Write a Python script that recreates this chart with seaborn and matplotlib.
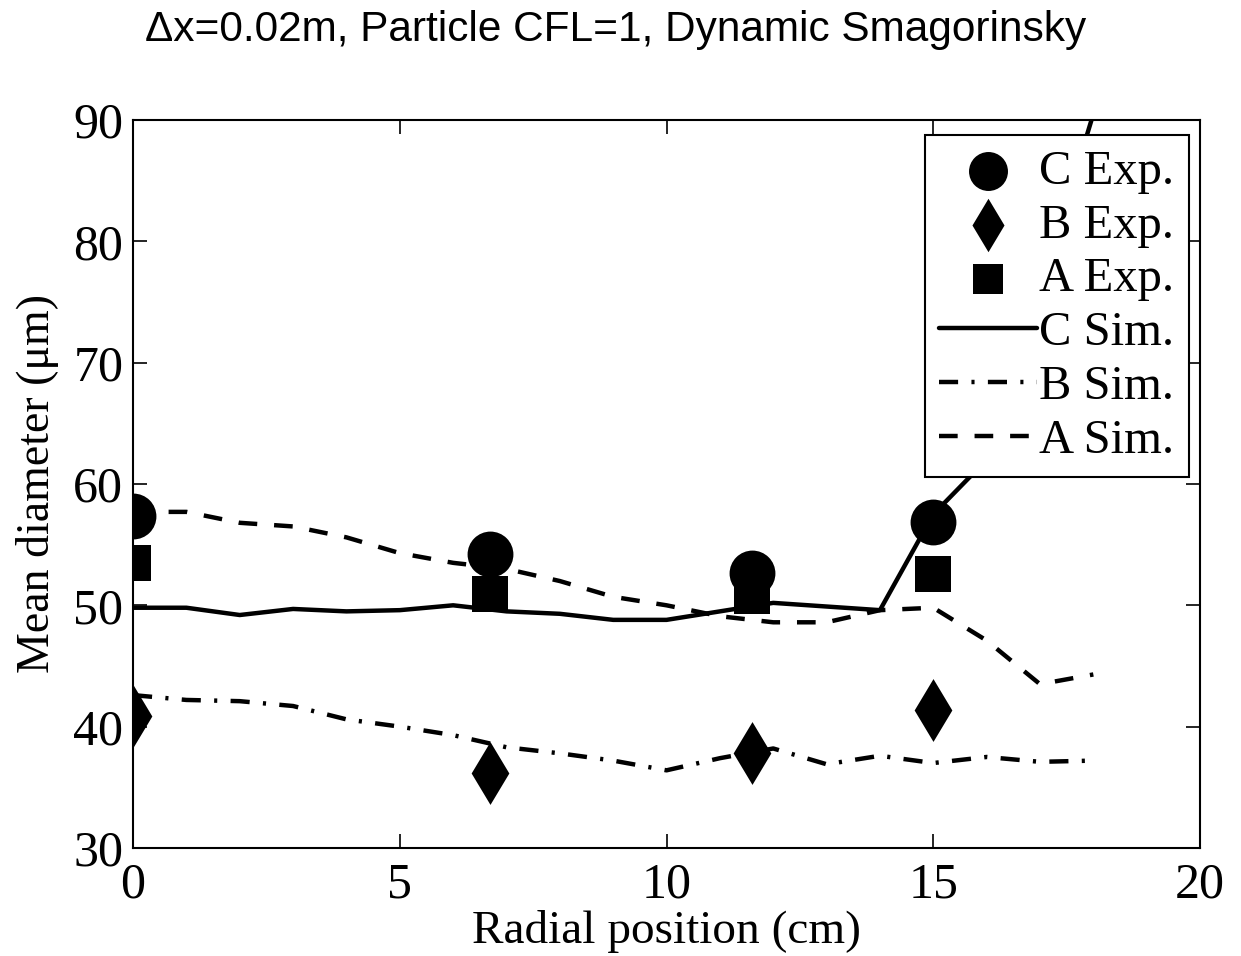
import numpy as np
import pandas as pd
import matplotlib
matplotlib.use("Agg")
import matplotlib.pyplot as plt
import seaborn as sns

# ---- data ----
sim_x = [0, 1, 2, 3, 4, 5, 6, 7, 8, 9, 10, 11, 12, 13, 14, 15, 16, 17, 18]
c_sim = [49.8, 49.8, 49.2, 49.7, 49.5, 49.6, 50.0, 49.5, 49.3, 48.8, 48.8, 49.5, 50.2, 49.9, 49.6, 57.5, 62.0, 76.0, 90.5]
b_sim = [42.6, 42.2, 42.1, 41.7, 40.6, 40.0, 39.3, 38.3, 37.8, 37.2, 36.4, 37.4, 38.2, 36.9, 37.6, 37.0, 37.5, 37.1, 37.2]
a_sim = [57.7, 57.7, 56.8, 56.5, 55.6, 54.3, 53.5, 53.0, 52.0, 50.7, 50.0, 49.1, 48.6, 48.6, 49.6, 49.8, 47.1, 43.5, 44.3]

exp_x = [0, 6.7, 11.6, 15.0]
c_exp = [57.4, 54.2, 52.7, 56.9]
b_exp = [40.9, 36.2, 37.8, 41.4]
a_exp = [53.5, 50.9, 50.8, 52.6]

title = "\u0394x=0.02m, Particle CFL=1, Dynamic Smagorinsky"
xlabel = "Radial position (cm)"
ylabel = "Mean diameter (\u03bcm)"

sns.set_theme(style="ticks")
plt.rcParams["font.family"] = ["Liberation Serif", "DejaVu Serif"]
plt.rcParams["text.color"] = "black"
plt.rcParams["axes.labelcolor"] = "black"
plt.rcParams["xtick.color"] = "black"
plt.rcParams["ytick.color"] = "black"

fig = plt.figure(figsize=(12.41, 9.56), dpi=100)
ax = fig.add_axes([0.1072, 0.1130, 0.8598, 0.7615])

df_exp = pd.DataFrame({"x": exp_x, "C": c_exp, "B": b_exp, "A": a_exp})
df_sim = pd.DataFrame({"x": sim_x, "C": c_sim, "B": b_sim, "A": a_sim})

sns.scatterplot(data=df_exp, x="x", y="C", marker="o", s=33**2, color="black",
                edgecolor="black", linewidth=0, ax=ax, label="C Exp.", zorder=3)
sns.scatterplot(data=df_exp, x="x", y="B", marker="d", s=32**2, color="black",
                edgecolor="black", linewidth=0, ax=ax, label="B Exp.", zorder=3)
sns.scatterplot(data=df_exp, x="x", y="A", marker="s", s=26**2, color="black",
                edgecolor="black", linewidth=0, ax=ax, label="A Exp.", zorder=3)

sns.lineplot(data=df_sim, x="x", y="C", color="black", lw=3.2, ax=ax,
             label="C Sim.", zorder=2)
l_b = sns.lineplot(data=df_sim, x="x", y="B", color="black", lw=3.2, ax=ax,
                   label="B Sim.", zorder=2).lines[-1]
l_b.set_dashes([4.3, 3.0, 0.7, 3.0])
l_a = sns.lineplot(data=df_sim, x="x", y="A", color="black", lw=3.2, ax=ax,
                   label="A Sim.", zorder=2).lines[-1]
l_a.set_dashes([4.2, 3.8])

ax.set_xlim(0, 20)
ax.set_ylim(30, 90)
ax.set_xticks([0, 5, 10, 15, 20])
ax.set_yticks([30, 40, 50, 60, 70, 80, 90])
ax.tick_params(direction="in", length=10, width=1.2, labelsize=36,
               top=True, right=True, colors="black")
ax.tick_params(axis="x", pad=10)
ax.tick_params(axis="y", pad=7)
for sp in ax.spines.values():
    sp.set_visible(True)
    sp.set_linewidth(1.5)
    sp.set_color("black")
ax.set_xlabel(xlabel, fontsize=34, labelpad=1)
ax.set_ylabel(ylabel, fontsize=33, labelpad=10)

handles, labels = ax.get_legend_handles_labels()
leg = ax.legend(handles, labels, loc="upper right", bbox_to_anchor=(0.9895, 0.979),
                fontsize=35, frameon=True, fancybox=False, edgecolor="black",
                markerscale=0.85, handlelength=2.0, handletextpad=0.05,
                labelspacing=0.2, borderpad=0.3, borderaxespad=0.0,
                markerfirst=True)
leg.get_frame().set_linewidth(1.5)
leg.get_frame().set_alpha(1)
leg.set_zorder(5)

fig.text(0.496, 0.969, title, ha="center", va="center", fontsize=30.5,
         family=["Liberation Sans", "DejaVu Sans"])

fig.savefig("out.png", dpi=100, facecolor="white")
